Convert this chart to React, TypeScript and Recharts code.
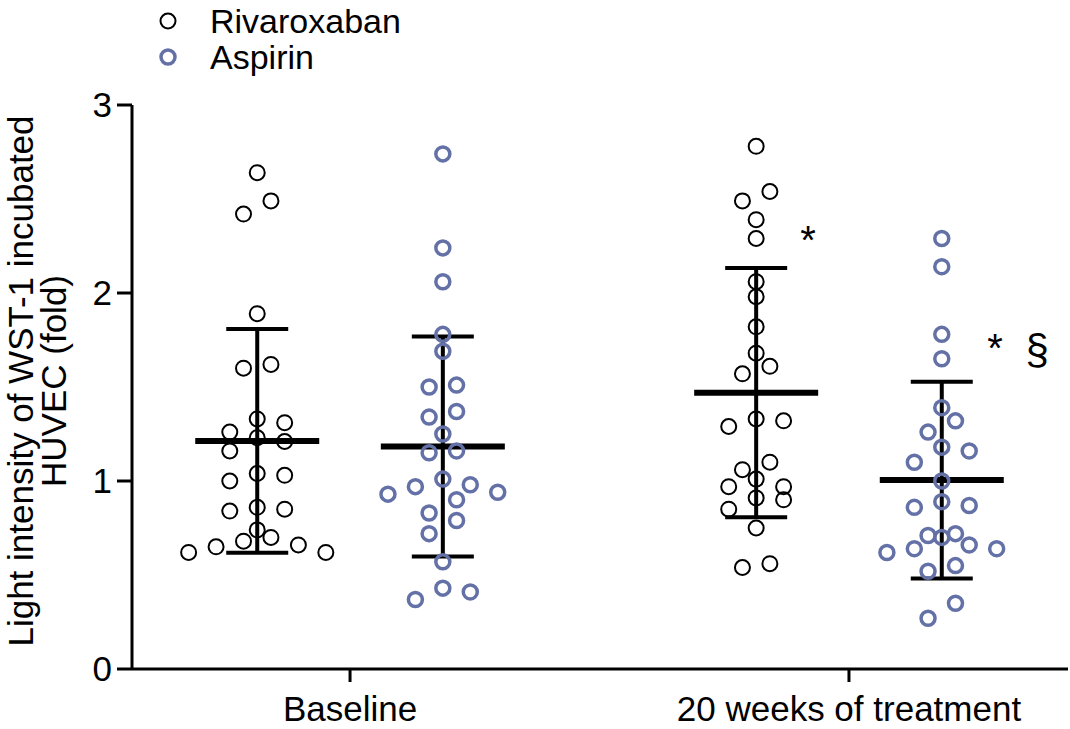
import {
  ScatterChart,
  Scatter,
  XAxis,
  YAxis,
  ErrorBar,
  ReferenceDot,
  Legend,
} from "recharts";

const groups = ["Baseline", "20 weeks of treatment"];
const seriesNames = ["Rivaroxaban", "Aspirin"];

// individual values (fold)
const rivaroxabanBaseline = [
  2.64, 2.49, 2.42, 1.89, 1.62, 1.6, 1.33, 1.31, 1.26, 1.23, 1.21, 1.16, 1.04,
  1.03, 1.0, 0.86, 0.85, 0.84, 0.74, 0.7, 0.68, 0.66, 0.65, 0.62, 0.62,
];
const aspirinBaseline = [
  2.74, 2.24, 2.06, 1.78, 1.69, 1.51, 1.5, 1.37, 1.34, 1.25, 1.16, 1.15, 1.01,
  0.98, 0.97, 0.94, 0.93, 0.9, 0.83, 0.79, 0.72, 0.57, 0.43, 0.41, 0.37,
];
const rivaroxabanWeek20 = [
  2.78, 2.54, 2.49, 2.39, 2.29, 2.06, 1.98, 1.82, 1.68, 1.61, 1.57, 1.33, 1.32,
  1.29, 1.1, 1.06, 1.01, 0.97, 0.97, 0.91, 0.9, 0.85, 0.75, 0.56, 0.54,
];
const aspirinWeek20 = [
  2.29, 2.14, 1.78, 1.65, 1.39, 1.32, 1.26, 1.18, 1.16, 1.1, 1.0, 0.89, 0.87,
  0.86, 0.72, 0.71, 0.7, 0.66, 0.64, 0.64, 0.62, 0.55, 0.52, 0.35, 0.27,
];

// mean and SD bars, per group
const rivaroxabanMean = [1.213, 1.47];
const rivaroxabanSd = [0.595, 0.663];
const aspirinMean = [1.183, 1.005];
const aspirinSd = [0.585, 0.523];

const yTicks = [0, 1, 2, 3];

const FONT = "'Liberation Sans', Arial, sans-serif";
const BLUE = "#6471a7";
const SUB_OFFSET = 0.186; // sub-column offset from group centre
const STEP = 0.055; // horizontal spacing of swarm points
const ROW_H = 0.08; // values closer than this share a row

// simple row-based column scatter layout (GraphPad-like)
function swarm(values: number[], center: number) {
  const sorted = [...values].sort((a, b) => a - b);
  const rows: number[][] = [];
  for (const v of sorted) {
    const row = rows[rows.length - 1];
    if (row && v - row[0] < ROW_H) row.push(v);
    else rows.push([v]);
  }
  const out: { x: number; y: number }[] = [];
  rows.forEach((row) => {
    const n = row.length;
    const slots: number[] = [];
    for (let i = 0; i < n; i++) slots.push(i - (n - 1) / 2);
    // lowest values to the outside, highest in the middle
    const order: number[] = [];
    let l = 0;
    let r = n - 1;
    while (l <= r) {
      order.push(slots[l]);
      if (l !== r) order.push(slots[r]);
      l++;
      r--;
    }
    row.forEach((v, i) => out.push({ x: center + order[i] * STEP, y: v }));
  });
  return out;
}

const rivaroxabanPoints = [
  ...swarm(rivaroxabanBaseline, 1 - SUB_OFFSET),
  ...swarm(rivaroxabanWeek20, 2 - SUB_OFFSET),
];
const aspirinPoints = [
  ...swarm(aspirinBaseline, 1 + SUB_OFFSET),
  ...swarm(aspirinWeek20, 2 + SUB_OFFSET),
];

const meanData = [
  ...rivaroxabanMean.map((m, i) => ({
    x: i + 1 - SUB_OFFSET,
    y: m,
    sd: rivaroxabanSd[i],
  })),
  ...aspirinMean.map((m, i) => ({
    x: i + 1 + SUB_OFFSET,
    y: m,
    sd: aspirinSd[i],
  })),
];

const RivDot = (props: any) => (
  <circle
    cx={props.cx}
    cy={props.cy}
    r={7.5}
    fill="none"
    stroke="#000"
    strokeWidth={2}
  />
);

const AspDot = (props: any) => (
  <circle
    cx={props.cx}
    cy={props.cy}
    r={7}
    fill="none"
    stroke={BLUE}
    strokeWidth={3.5}
  />
);

const MeanLine = (props: any) => (
  <line
    x1={props.cx - 62}
    x2={props.cx + 62}
    y1={props.cy}
    y2={props.cy}
    stroke="#000"
    strokeWidth={6}
  />
);

const YTitle = (props: any) => {
  const vb = props.viewBox || { x: 0, y: 105, height: 564 };
  const cy = vb.y + vb.height / 2 - 6;
  return (
    <g fontFamily={FONT} fontSize={35} fill="#000">
      <text
        x={33}
        y={cy}
        textAnchor="middle"
        transform={`rotate(-90 33 ${cy})`}
      >
        Light intensity of WST-1 incubated
      </text>
      <text
        x={66}
        y={cy}
        textAnchor="middle"
        transform={`rotate(-90 66 ${cy})`}
      >
        HUVEC (fold)
      </text>
    </g>
  );
};

const LegendContent = () => (
  <div style={{ fontFamily: FONT, fontSize: 34, color: "#000" }}>
    {seriesNames.map((name, i) => (
      <div
        key={name}
        style={{ display: "flex", alignItems: "center", height: 36, lineHeight: "36px" }}
      >
        <svg width={20} height={20} style={{ marginRight: 32 }}>
          <circle
            cx={10}
            cy={10}
            r={i === 0 ? 7.5 : 7}
            fill="none"
            stroke={i === 0 ? "#000" : BLUE}
            strokeWidth={i === 0 ? 2 : 3.5}
          />
        </svg>
        <span>{name}</span>
      </div>
    ))}
  </div>
);

export default function App() {
  return (
    <div>
      <style>{"body{margin:0;background:#fff}"}</style>
      <ScatterChart
        width={1070}
        height={729}
        margin={{ top: 105, right: 2, bottom: 0, left: 0 }}
      >
        <XAxis
          type="number"
          dataKey="x"
          domain={[0.563, 2.439]}
          ticks={[1, 2]}
          tickFormatter={(v) => groups[v - 1]}
          allowDataOverflow
          height={60}
          axisLine={{ stroke: "#000", strokeWidth: 3 }}
          tickLine={{ stroke: "#000", strokeWidth: 3 }}
          tickSize={13}
          tickMargin={14}
          tick={{ fill: "#000", fontSize: 35, fontFamily: FONT }}
        />
        <YAxis
          type="number"
          dataKey="y"
          domain={[0, 3]}
          ticks={yTicks}
          width={132}
          axisLine={{ stroke: "#000", strokeWidth: 3 }}
          tickLine={{ stroke: "#000", strokeWidth: 3 }}
          tickSize={15}
          tickMargin={5}
          tick={{ fill: "#000", fontSize: 35, fontFamily: FONT }}
          label={<YTitle />}
        />
        <Legend
          verticalAlign="middle"
          align="center"
          layout="vertical"
          content={<LegendContent />}
          wrapperStyle={{ top: 3, left: 158, width: "auto", height: "auto" }}
        />
        <Scatter
          name="mean"
          data={meanData}
          shape={<MeanLine />}
          isAnimationActive={false}
          legendType="none"
        >
          <ErrorBar
            dataKey="sd"
            direction="y"
            width={31}
            stroke="#000"
            strokeWidth={4}
            isAnimationActive={false}
          />
        </Scatter>
        <Scatter
          name="Rivaroxaban"
          data={rivaroxabanPoints}
          shape={<RivDot />}
          isAnimationActive={false}
        />
        <Scatter
          name="Aspirin"
          data={aspirinPoints}
          shape={<AspDot />}
          isAnimationActive={false}
        />
        <ReferenceDot
          x={1.918}
          y={2.282}
          r={0}
          label={{ value: "*", position: "center", fontSize: 40, fill: "#000", fontFamily: FONT }}
        />
        <ReferenceDot
          x={2.293}
          y={1.707}
          r={0}
          label={{ value: "*", position: "center", fontSize: 40, fill: "#000", fontFamily: FONT }}
        />
        <ReferenceDot
          x={2.377}
          y={1.7}
          r={0}
          label={{ value: "§", position: "center", fontSize: 42, fill: "#000", fontFamily: FONT }}
        />
      </ScatterChart>
    </div>
  );
}
